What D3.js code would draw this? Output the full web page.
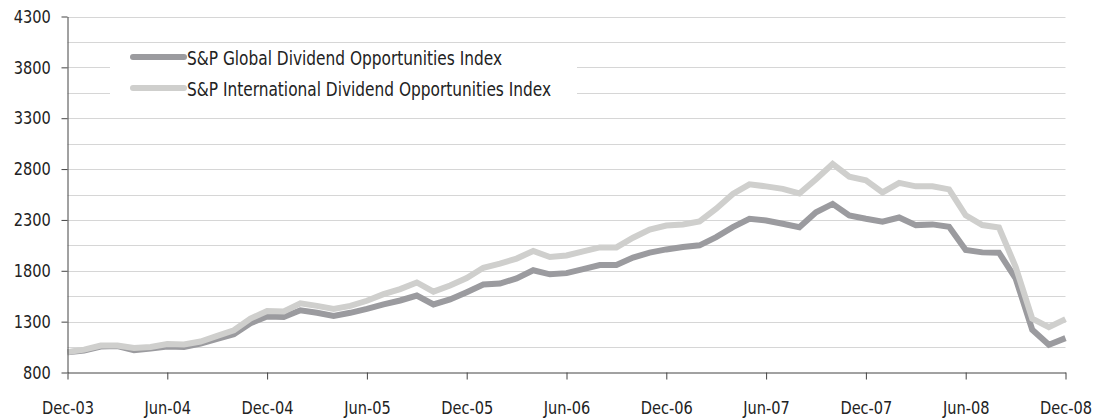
<!DOCTYPE html>
<html>
<head>
<meta charset="utf-8">
<script src="https://cdn.jsdelivr.net/npm/d3@7/dist/d3.min.js"></script>
<style>
    body { margin: 0; background: #fff; }
    text { font-family: "DejaVu Sans Condensed", "DejaVu Sans", sans-serif; font-stretch: condensed; fill: #222; }
</style>
</head>
<body>
<div id="chart"></div>
<script>
// x tick labels, one every 6 months from Dec-03
var tickLabels = ["Dec-03", "Jun-04", "Dec-04", "Jun-05", "Dec-05", "Jun-06",
                  "Dec-06", "Jun-07", "Dec-07", "Jun-08", "Dec-08"];

var yTicks = [800, 1300, 1800, 2300, 2800, 3300, 3800, 4300];

var seriesNames = ["S&P Global Dividend Opportunities Index",
                   "S&P International Dividend Opportunities Index"];

// monthly index levels, Dec-03 .. Dec-08
var globalIdx = [1000, 1015, 1055, 1060, 1020, 1035, 1055, 1050, 1085, 1130,
                 1175, 1285, 1350, 1345, 1412, 1387, 1355, 1387, 1426, 1469,
                 1508, 1557, 1469, 1518, 1590, 1665, 1675, 1725, 1805, 1765,
                 1777, 1816, 1856, 1856, 1930, 1979, 2010, 2034, 2050, 2131,
                 2229, 2311, 2295, 2262, 2229, 2376, 2458, 2344, 2311, 2282,
                 2324, 2249, 2256, 2233, 2004, 1981, 1978, 1726, 1220, 1073,
                 1138];

var intlIdx = [1000, 1025, 1065, 1065, 1040, 1050, 1080, 1075, 1105, 1160,
               1215, 1330, 1405, 1400, 1480, 1455, 1425, 1455, 1505, 1570,
               1620, 1685, 1595, 1655, 1728, 1830, 1870, 1920, 1995, 1935,
               1950, 1990, 2030, 2030, 2125, 2205, 2245, 2255, 2285, 2410,
               2555, 2650, 2630, 2605, 2560, 2700, 2850, 2725, 2690, 2570,
               2665, 2630, 2630, 2600, 2345, 2250, 2225, 1840, 1330, 1245,
               1325];

var colors = ["#9b9b9f", "#cfcfcd"];

function init() {
    var w = 1104;
    var h = 420;
    var squeeze = "scale(0.9,1)"; // narrow the glyphs a bit, like the condensed original

    var x = d3.scaleLinear()
        .domain([0, globalIdx.length - 1])
        .range([67.5, 1065.5]);

    var y = d3.scaleLinear()
        .domain([800, 4300])
        .range([372.5, 16.5]);

    var svg = d3.select("#chart")
        .append("svg")
        .attr("width", w)
        .attr("height", h);

    // gridlines every 250
    svg.append("g")
        .selectAll("line")
        .data(d3.range(1050, 4301, 250))
        .enter()
        .append("line")
        .attr("x1", x(0))
        .attr("x2", x(60))
        .attr("y1", function(d) { return Math.round(y(d)) + 0.5; })
        .attr("y2", function(d) { return Math.round(y(d)) + 0.5; })
        .style("stroke", "#d6d6d6")
        .style("stroke-width", 1);

    // legend box hides gridlines behind it
    svg.append("rect")
        .attr("x", 110)
        .attr("y", 46)
        .attr("width", 467)
        .attr("height", 64)
        .style("fill", "#fff");

    var line = d3.line()
        .x(function(d, i) { return x(i); })
        .y(function(d) { return y(d); });

    [globalIdx, intlIdx].forEach(function(s, k) {
        svg.append("path")
            .datum(s)
            .attr("d", line)
            .style("fill", "none")
            .style("stroke", colors[k])
            .style("stroke-width", 6)
            .style("stroke-linejoin", "miter");
    });

    // axes
    var yAxis = d3.axisLeft(y)
        .tickValues(yTicks)
        .tickFormat(d3.format("d"))
        .tickSize(6)
        .tickSizeOuter(0)
        .tickPadding(12.5);

    svg.append("g")
        .attr("transform", "translate(" + x(0) + ",0)")
        .call(yAxis);

    var xAxis = d3.axisBottom(x)
        .tickValues(d3.range(0, 61, 6))
        .tickFormat(function(d) { return tickLabels[d / 6]; })
        .tickSize(7)
        .tickSizeOuter(0)
        .tickPadding(22);

    svg.append("g")
        .attr("transform", "translate(0," + y(800) + ")")
        .call(xAxis);

    svg.selectAll(".domain, .tick line").style("stroke", "#444");
    svg.selectAll(".tick text")
        .attr("transform", squeeze)
        .style("font-size", "18px")
        .style("fill", "#222")
        .style("font-family", "'DejaVu Sans Condensed', 'DejaVu Sans', sans-serif");

    // legend
    var legY = [57, 88];
    seriesNames.forEach(function(name, k) {
        svg.append("line")
            .attr("x1", 133)
            .attr("x2", 184)
            .attr("y1", legY[k])
            .attr("y2", legY[k])
            .style("stroke", colors[k])
            .style("stroke-width", 6)
            .style("stroke-linecap", "round");
        svg.append("g")
            .attr("transform", "translate(187," + (legY[k] + 7.5) + ") " + squeeze)
            .append("text")
            .style("font-size", "19px")
            .text(name);
    });
}

window.onload = init;
</script>
</body>
</html>
